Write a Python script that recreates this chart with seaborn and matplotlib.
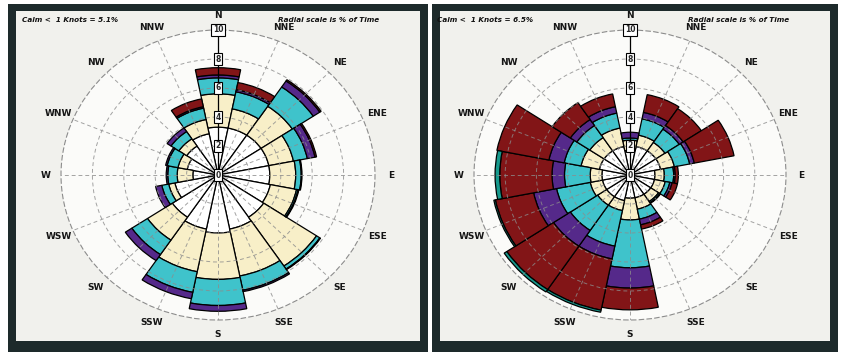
import numpy as np
import pandas as pd
import matplotlib
matplotlib.use("Agg")
import matplotlib.pyplot as plt
import seaborn as sns
from matplotlib.patches import Rectangle

# ---------------- data (percent of time) ----------------
directions = ["N", "NNE", "NE", "ENE", "E", "ESE", "SE", "SSE",
              "S", "SSW", "SW", "WSW", "W", "WNW", "NW", "NNW"]
speed_classes = ["class1", "class2", "class3", "class4", "class5", "class6"]

left_c1 = [3.3, 3.3, 3.3, 3.3, 3.3, 3.4, 3.5, 3.8, 4.0, 3.8, 3.5, 2.8, 1.6, 2.0, 2.4, 2.9]
left_c2 = [2.3, 1.35, 2.4, 1.6, 1.65, 1.7, 4.05, 3.3, 3.2, 3.0, 1.9, 0.4, 1.0, 0.6, 0.6, 1.0]
left_c3 = [1.1, 1.2, 1.6, 0.9, 0.35, 0.1, 0.25, 1.0, 1.8, 1.45, 1.2, 0.45, 0.6, 0.7, 0.6, 0.8]
left_c4 = [0.2, 0.15, 0.5, 0.5, 0.05, 0.05, 0.05, 0.1, 0.4, 0.45, 0.5, 0.4, 0.1, 0.1, 0.3, 0.1]
left_c5 = [0.5, 0.5, 0.1, 0.1, 0, 0, 0, 0, 0, 0, 0, 0, 0, 0, 0, 0.55]
left_c6 = [0, 0, 0, 0, 0, 0, 0, 0, 0, 0, 0, 0, 0, 0, 0, 0]

right_c1 = [1.7, 2.0, 2.0, 2.0, 1.6, 1.6, 1.6, 1.6, 1.6, 1.8, 1.8, 1.8, 1.8, 2.0, 2.0, 2.0]
right_c2 = [0.7, 0.8, 0.7, 0.9, 0.6, 0.7, 0.6, 0.8, 1.5, 0.7, 0.7, 0.8, 0.75, 1.2, 1.1, 1.3]
right_c3 = [0.15, 1.15, 1.1, 1.0, 0.6, 0.3, 0.1, 0.7, 3.3, 2.5, 2.1, 2.2, 1.65, 1.1, 1.0, 1.05]
right_c4 = [0.4, 0.45, 0.3, 0.3, 0.1, 0.15, 0.05, 0.4, 1.4, 0.9, 1.3, 1.5, 0.8, 1.0, 0.5, 0.45]
right_c5 = [0, 1.25, 1.4, 2.6, 0.2, 0.35, 0, 0.3, 1.5, 3.6, 3.6, 2.5, 3.35, 3.4, 1.4, 0.9]
right_c6 = [0, 0, 0, 0, 0, 0, 0, 0, 0, 0.15, 0.2, 0.1, 0.3, 0, 0, 0]

left_title = "Calm <  1 Knots = 5.1%"
right_title = "Calm <  1 Knots = 6.5%"
scale_note = "Radial scale is % of Time"
ring_ticks = [0, 2, 4, 6, 8, 10]

class_colors = ["#ffffff", "#f8efc8", "#3fc3cb", "#55298a", "#821517", "#16998c"]

# ---------------- style ----------------
sns.set_theme(style="white")
plt.rcParams["font.family"] = ["DejaVu Sans"]

W, H = 843, 356
fig = plt.figure(figsize=(W / 100, H / 100), dpi=100)
fig.patch.set_facecolor("white")


def px_rect(x0, y0, x1, y1):
    """pixel box (top-left origin) -> figure fraction [l, b, w, h]"""
    return [x0 / W, 1 - y1 / H, (x1 - x0) / W, (y1 - y0) / H]


frame_col = "#1d2a2b"
panel_col = "#f1f1ed"
for (ox0, oy0, ox1, oy1), (ix0, iy0, ix1, iy1) in [
        ((8, 4, 428, 352), (16, 11, 420, 341)),
        ((432, 4, 838, 352), (440, 11, 830, 341))]:
    l, b, w, h = px_rect(ox0, oy0, ox1, oy1)
    fig.patches.append(Rectangle((l, b), w, h, transform=fig.transFigure,
                                 fc=frame_col, ec="none", zorder=-3))
    l, b, w, h = px_rect(ix0, iy0, ix1, iy1)
    fig.patches.append(Rectangle((l, b), w, h, transform=fig.transFigure,
                                 fc=panel_col, ec="none", zorder=-2))

theta = np.deg2rad(np.arange(len(directions)) * 360.0 / len(directions))
width = 2 * np.pi / len(directions)


def draw_rose(center, rx, ry, classes):
    cx, cy = center
    ax = fig.add_axes(px_rect(cx - rx, cy - ry, cx + rx, cy + ry), projection="polar")
    ax.set_aspect("auto")
    ax.set_facecolor("#fbfbf9")
    ax.set_theta_zero_location("N")
    ax.set_theta_direction(-1)
    df = pd.DataFrame(np.array(classes).T, index=directions, columns=speed_classes)
    bottom = np.zeros(len(directions))
    for k, col in enumerate(speed_classes):
        vals = df[col].to_numpy(dtype=float)
        m = vals > 0
        ax.bar(theta[m], vals[m], width=width, bottom=bottom[m],
               color=class_colors[k], edgecolor="black", linewidth=0.9, zorder=2)
        bottom = bottom + vals
    ax.set_ylim(0, 10)
    ax.set_rgrids([2, 4, 6, 8], labels=[""] * 4)
    ax.set_thetagrids(np.arange(0, 360, 22.5), labels=[""] * 16)
    ax.grid(True, color="#8c8c8c", lw=0.7, linestyle=(0, (4, 3)), alpha=0.8)
    ax.set_axisbelow(False)
    sp = ax.spines["polar"]
    sp.set_color("#8c8c8c")
    sp.set_linestyle((0, (4, 3)))
    sp.set_linewidth(0.8)
    ax.axvline(0, ymin=0, ymax=1, color="black", lw=0.9, zorder=3)
    for r in ring_ticks:
        ax.text(0, r, str(r), ha="center", va="center", fontsize=5.5, zorder=4,
                fontweight="bold",
                bbox=dict(boxstyle="square,pad=0.2", fc="white", ec="black", lw=0.8))
    for t, name in zip(theta, directions):
        ax.text(t, 11.0, name, ha="center", va="center", fontsize=6.5,
                fontweight="bold", color="#151515", clip_on=False)
    return ax


draw_rose((218, 175), 157, 145, [left_c1, left_c2, left_c3, left_c4, left_c5, left_c6])
draw_rose((630, 175), 156, 145, [right_c1, right_c2, right_c3, right_c4, right_c5, right_c6])

for x, txt in [(22, left_title), (278, scale_note), (437, right_title), (688, scale_note)]:
    fig.text(x / W, 1 - 20 / H, txt, fontsize=5.2, fontweight="bold",
             fontstyle="italic", color="#111111", ha="left", va="center")

fig.savefig("out.png", dpi=100, facecolor="white")
